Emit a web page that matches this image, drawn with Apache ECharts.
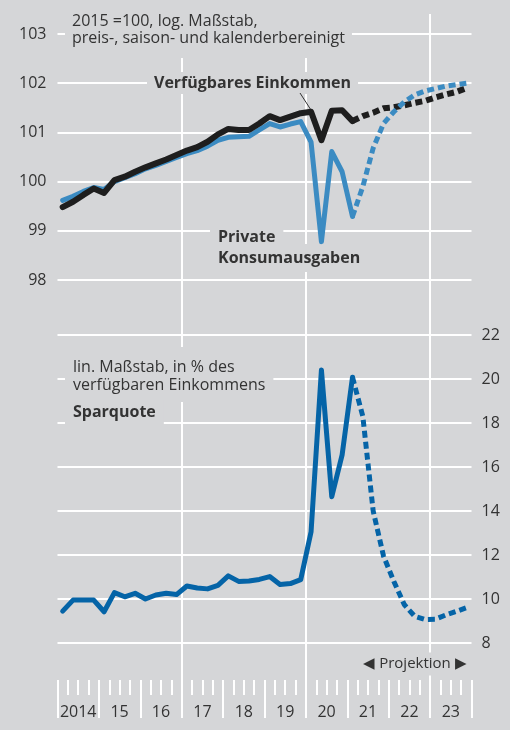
<!DOCTYPE html>
<html>
<head>
<meta charset="utf-8">
<script src="https://cdn.jsdelivr.net/npm/echarts@6/dist/echarts.min.js"></script>
<style>
  html, body {margin: 0; padding: 0; background: #d5d6d8;}
  #chart {width: 510px; height: 730px;}
</style>
</head>
<body>
<div id="chart"></div>
<script>
// Jahre (Achsenbeschriftung), je 4 Quartale
const years = ['2014', '15', '16', '17', '18', '19', '20', '21', '22', '23']
// ab diesem Quartal (2021 Q1) Projektion
const projStart = 28

// 2015 = 100
const einkommen = [99.48, 99.59, 99.73, 99.86, 99.77, 100.03, 100.1, 100.2, 100.29, 100.37,
  100.45, 100.54, 100.63, 100.7, 100.81, 100.96, 101.07, 101.05, 101.05, 101.18,
  101.33, 101.25, 101.32, 101.39, 101.42, 100.84, 101.44, 101.45, 101.23, 101.33,
  101.4, 101.49, 101.51, 101.55, 101.6, 101.64, 101.71, 101.77, 101.82, 101.9]
const konsum = [99.62, 99.7, 99.8, 99.88, 99.84, 100.0, 100.08, 100.16, 100.26, 100.33,
  100.41, 100.49, 100.57, 100.63, 100.72, 100.84, 100.9, 100.91, 100.92, 101.05,
  101.18, 101.11, 101.17, 101.22, 100.8, 98.78, 100.61, 100.2, 99.29, 99.9,
  100.68, 101.18, 101.42, 101.62, 101.76, 101.84, 101.89, 101.94, 101.97, 102.0]
// in % des verfügbaren Einkommens
const sparquote = [9.45, 9.95, 9.95, 9.95, 9.42, 10.29, 10.1, 10.26, 10.0, 10.18,
  10.26, 10.2, 10.59, 10.5, 10.46, 10.62, 11.05, 10.8, 10.82, 10.89,
  11.02, 10.66, 10.7, 10.88, 13.06, 20.41, 14.65, 16.55, 20.08, 18.3,
  14.0, 11.95, 10.8, 9.75, 9.22, 9.07, 9.08, 9.27, 9.43, 9.6]

const quarters = []
years.forEach(y => { for (let q = 1; q <= 4; q++) quarters.push(y + ' Q' + q) })

const ist = arr => arr.map((v, i) => i <= projStart ? v : null)
const proj = arr => arr.map((v, i) => i >= projStart ? v : null)

const bg = '#d5d6d8'
const font = '"Open Sans", "Noto Sans", sans-serif'
const txt = '#333333'
const dots = [7, 4]

function box(text, x, y, opts) {
  return {
    type: 'text',
    z: 1,
    style: Object.assign({
      text: text,
      x: x,
      y: y,
      fontFamily: font,
      fontSize: 16,
      fill: txt,
      backgroundColor: bg,
      verticalAlign: 'top'
    }, opts)
  }
}

function line(name, data, xi, color, width, dashed, z) {
  return {
    name: name,
    type: 'line',
    xAxisIndex: xi,
    yAxisIndex: xi === 0 ? 0 : 1,
    data: data,
    symbol: 'none',
    silent: true,
    z: z,
    lineStyle: {
      color: color,
      width: width,
      type: dashed ? dots : 'solid',
      cap: dashed ? 'butt' : 'round',
      join: 'round'
    }
  }
}

let myChart = echarts.init(document.getElementById('chart'))
let option = {
  backgroundColor: bg,
  animation: false,
  grid: [
    {left: 57.5, right: 38.5, top: 34, height: 246},
    {left: 57.5, right: 38.5, top: 335, height: 308},
    {left: 57.5, right: 38.5, top: 14, height: 666}
  ],
  xAxis: [
    {type: 'category', gridIndex: 0, data: quarters, boundaryGap: true, show: false},
    {
      type: 'category', gridIndex: 1, data: quarters, boundaryGap: true,
      position: 'bottom', offset: 37,
      axisLine: {show: false},
      axisTick: {show: true, interval: 0, length: 15, lineStyle: {color: '#fff', width: 2}},
      axisLabel: {show: false},
      splitLine: {show: false}
    },
    {
      type: 'category', gridIndex: 1, data: years, boundaryGap: true,
      position: 'bottom', offset: 37,
      axisLine: {show: false},
      axisTick: {show: true, interval: 0, length: 38, lineStyle: {color: '#fff', width: 2}},
      axisLabel: {interval: 0, margin: 24, fontSize: 16, fontFamily: font, color: txt},
      splitLine: {show: false}
    },
    {
      type: 'value', gridIndex: 2, min: 0, max: 40, interval: 12,
      axisLine: {show: false}, axisTick: {show: false}, axisLabel: {show: false},
      splitLine: {show: true, showMinLine: false, showMaxLine: false, lineStyle: {color: '#fff', width: 2}}
    }
  ],
  yAxis: [
    {
      type: 'value', gridIndex: 0, min: 98, max: 103, interval: 1, position: 'left',
      axisLine: {show: false}, axisTick: {show: false},
      axisLabel: {margin: 11, fontSize: 16, fontFamily: font, color: txt},
      splitLine: {lineStyle: {color: '#fff', width: 2}}
    },
    {
      type: 'value', gridIndex: 1, min: 8, max: 22, interval: 2, position: 'right',
      axisLine: {show: false}, axisTick: {show: false},
      axisLabel: {margin: 10, fontSize: 16, fontFamily: font, color: txt},
      splitLine: {lineStyle: {color: '#fff', width: 2}}
    },
    {type: 'value', gridIndex: 2, min: 0, max: 1, show: false, splitLine: {show: false}}
  ],
  graphic: [
    box('2015 =100, log. Maßstab,\npreis-, saison- und kalenderbereinigt', 65, 0,
      {lineHeight: 17, padding: [13, 7, 11, 7]}),
    box('Verfügbares Einkommen', 147, 83,
      {fontWeight: 'bold', verticalAlign: 'middle', padding: [3, 7]}),
    {
      type: 'line', z: 1,
      shape: {x1: 300, y1: 93, x2: 311, y2: 110},
      style: {stroke: '#333', lineWidth: 1}
    },
    box('Private', 210, 237,
      {fontWeight: 'bold', verticalAlign: 'middle', padding: [5, 8]}),
    box('Konsumausgaben', 210, 258,
      {fontWeight: 'bold', verticalAlign: 'middle', padding: [6, 8]}),
    box('lin. Maßstab, in % des\nverfügbaren Einkommens', 65, 347,
      {lineHeight: 18, padding: [11, 8, 8, 8]}),
    box('Sparquote', 65, 412,
      {fontWeight: 'bold', verticalAlign: 'middle', padding: [4, 8, 5, 8]}),
    box('◀ Projektion ▶', 415, 664,
      {fontSize: 15, align: 'center', verticalAlign: 'middle', padding: [4, 3]})
  ],
  series: [
    line('Private Konsumausgaben', ist(konsum), 0, '#3b8bc2', 5, false, 3),
    line('Verfügbares Einkommen', ist(einkommen), 0, '#1e1e1e', 6, false, 4),
    line('Verfügbares Einkommen (Projektion)', proj(einkommen), 0, '#1e1e1e', 6, true, 4),
    line('Private Konsumausgaben (Projektion)', proj(konsum), 0, '#3b8bc2', 5, true, 5),
    line('Sparquote', ist(sparquote), 1, '#0564a7', 5, false, 3),
    line('Sparquote (Projektion)', proj(sparquote), 1, '#0564a7', 5, true, 3)
  ]
}
myChart.setOption(option)
</script>
</body>
</html>
